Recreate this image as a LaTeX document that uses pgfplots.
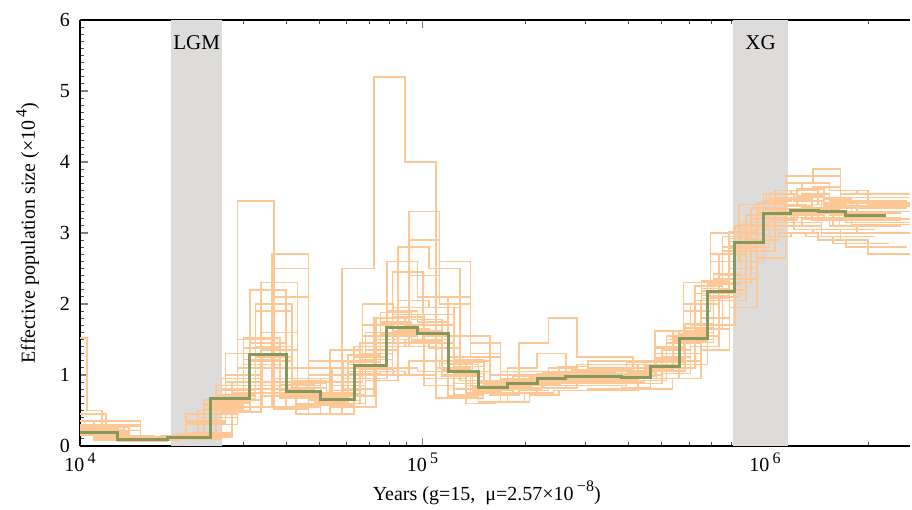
\documentclass[border=0pt]{standalone}
\usepackage{pgfplots}
\pgfplotsset{compat=1.18}
\usepackage{pgfplotstable}
\usepackage{fontspec}
\setmainfont{Liberation Serif}
\definecolor{bootc}{HTML}{FDC896}
\definecolor{psmcc}{HTML}{87985C}
\definecolor{bandc}{HTML}{DDDCDB}

% rows = PSMC intervals, t* = interval start (years) for each bootstrap time grid
\pgfplotstableread{
tA tB tC tD tE tM m c1 c2 c3 c4 c5 c6 c7 c8 c9 c10 c11 c12 c13 c14 c15 c16 c17 c18 c19 c20
9000 9000 9000 9000 9000 9000 0.19 0.25 0.22 0.18 0.30 0.15 0.45 0.20 0.28 0.30 0.20 0.35 0.17 0.22 0.26 0.30 0.24 0.20 0.16 0.35 0.18
12900 11900 13900 15000 11000 12900 0.085 0.12 0.10 0.09 0.12 0.08 0.15 0.10 0.11 0.12 0.10 0.14 0.07 0.09 0.13 0.12 0.11 0.09 0.08 0.13 0.09
17950 16500 19400 20800 15260 17950 0.12 0.15 0.10 0.14 0.18 0.09 0.13 0.12 0.16 0.14 0.13 0.11 0.10 0.12 0.17 0.11 0.13 0.11 0.10 0.14 0.10
24000 22100 25900 27800 20400 24000 0.67 0.55 0.40 0.80 0.90 0.30 0.50 0.45 0.75 0.60 0.65 0.35 0.50 0.55 0.95 0.30 0.45 0.62 0.48 0.85 0.32
31300 28800 33800 36300 26600 31300 1.295 1.45 1.10 1.60 2.10 0.80 3.45 1.50 2.70 1.20 1.35 1.00 0.85 0.95 2.30 0.80 1.30 2.20 1.10 2.50 0.90
40000 36800 43200 46400 34000 40000 0.765 0.85 0.70 0.95 0.90 0.55 0.90 0.80 1.00 0.70 0.75 0.75 0.55 0.70 1.10 0.52 0.85 0.95 0.68 1.20 0.70
50400 46400 54400 58500 42800 50400 0.66 0.75 0.60 0.72 0.80 0.45 0.70 0.65 0.70 0.58 0.60 0.60 0.45 0.55 0.85 0.45 0.70 0.72 0.55 0.95 0.58
63100 58100 68100 73200 53600 63100 1.13 1.25 1.00 1.35 1.40 0.90 1.20 2.50 1.50 1.05 1.10 1.10 0.95 1.00 1.60 0.70 1.35 1.40 0.92 1.80 1.00
78600 72300 84900 91200 66800 78600 1.67 1.90 1.50 2.05 2.90 1.10 1.80 5.20 2.40 1.55 1.65 1.70 1.10 1.20 2.80 1.05 2.00 2.60 1.45 3.30 1.55
96600 88900 104300 112100 82100 96600 1.59 1.75 1.40 1.95 2.00 1.00 1.70 4.00 2.10 1.50 1.55 1.60 1.05 1.10 2.50 1.00 1.85 2.10 1.38 2.60 1.45
118900 109400 128400 137900 101100 118900 1.045 1.15 0.95 1.20 1.30 0.85 1.10 1.20 1.25 1.00 1.05 1.05 0.70 0.75 1.55 0.68 1.20 1.25 0.92 1.45 0.95
145600 134000 157200 168900 123800 145600 0.82 0.90 0.75 0.88 0.95 0.68 0.85 0.80 0.90 0.78 0.85 0.80 0.62 0.62 1.00 0.60 0.88 0.92 0.72 1.05 0.72
177000 162800 191200 205300 150500 177000 0.88 0.95 0.82 0.92 1.00 0.75 0.90 0.85 0.95 0.85 1.45 0.85 0.75 0.72 1.05 0.62 0.92 1.10 0.78 1.05 0.78
216000 198700 233300 250600 183600 216000 0.95 1.02 0.88 1.00 1.05 0.80 0.98 0.90 1.00 0.92 1.80 0.90 0.82 0.78 1.10 0.75 1.00 1.30 0.82 1.12 0.85
262000 241000 283000 303900 222700 262000 0.985 1.05 0.92 1.08 1.10 0.85 1.00 0.95 1.05 0.96 1.25 0.92 0.85 0.80 1.15 0.78 1.02 1.00 0.88 1.20 0.88
381000 350500 411500 442000 323900 381000 0.97 1.02 0.93 1.05 1.10 0.85 0.98 0.95 1.05 0.95 1.00 0.90 0.82 0.80 1.15 0.78 1.00 0.95 0.88 1.20 0.88
463000 426000 500000 537000 393600 463000 1.117 1.20 1.05 1.25 1.30 0.98 1.15 1.10 1.20 1.10 1.15 1.05 0.95 0.95 1.35 0.92 1.18 1.12 1.02 1.50 1.00
561000 516000 606000 651000 476900 561000 1.52 1.62 1.45 1.70 1.80 1.30 1.55 1.50 1.65 1.48 1.55 1.40 1.15 1.35 2.00 1.10 1.62 1.58 1.40 2.05 1.38
679000 625000 733000 788000 577200 679000 2.17 2.30 2.05 2.40 2.50 1.90 2.25 2.15 2.35 2.10 2.20 2.00 1.70 1.95 2.70 1.65 2.30 2.28 2.05 2.60 2.00
816000 751000 881000 947000 693600 816000 2.86 3.00 2.75 3.10 3.20 2.60 2.95 2.80 3.05 2.80 2.90 2.70 2.60 2.65 3.25 2.30 3.00 3.10 2.75 3.35 2.70
989000 910000 1068000 1147000 840700 989000 3.28 3.45 3.20 3.50 3.60 3.05 3.35 3.25 3.70 3.20 3.30 3.15 2.95 3.00 3.60 2.90 3.40 3.55 3.10 3.80 3.10
1189000 1094000 1284000 1379000 1010700 1189000 3.32 3.50 3.30 3.55 3.65 3.15 3.40 3.40 3.80 3.25 3.35 3.25 3.00 3.05 3.70 3.00 3.55 3.60 3.20 3.90 3.20
1430000 1316000 1544000 1659000 1215500 1430000 3.30 3.40 3.20 3.45 3.50 3.05 3.35 3.30 3.55 3.20 3.25 3.15 2.90 2.90 3.60 2.95 3.45 3.50 3.10 3.60 3.10
1720000 1582000 1858000 1995000 1462000 1720000 3.25 3.35 3.10 3.30 3.40 2.95 3.30 3.20 3.40 3.15 3.20 3.05 2.80 2.70 3.55 2.85 3.35 3.45 3.00 3.50 3.00
2600000 2300000 2800000 2900000 2100000 2260000 3.25 3.35 3.10 3.30 3.40 2.95 3.30 3.20 3.40 3.15 3.20 3.05 2.80 2.70 3.55 2.85 3.35 3.45 3.00 3.50 3.00
}\psmc

% ten more bootstrap replicates on two further time grids
\pgfplotstableread{
tF tG c21 c22 c23 c24 c25 c26 c27 c28 c29 c30
9000 9000 0.21 0.19 0.27 0.23 0.18 0.26 0.20 0.17 0.24 0.21
12380 13420 0.10 0.09 0.11 0.10 0.08 0.12 0.09 0.08 0.11 0.10
17230 18670 0.13 0.15 0.12 0.16 0.11 0.14 0.12 0.13 0.14 0.14
23040 24960 0.58 0.78 0.50 0.85 0.52 0.72 0.60 0.66 0.65 0.70
30050 32550 1.30 1.40 1.15 1.90 1.22 2.00 1.38 1.25 1.52 1.20
38400 41600 0.80 0.82 0.72 0.88 0.68 0.92 0.78 0.74 0.86 0.70
48380 52420 0.68 0.70 0.62 0.74 0.57 0.78 0.66 0.64 0.72 0.60
60580 65620 1.18 1.22 1.05 1.30 1.02 1.45 1.15 1.08 1.28 1.05
75460 81740 1.75 1.82 1.60 1.95 1.58 2.45 1.72 1.62 1.88 1.58
92740 100500 1.62 1.70 1.50 1.85 1.48 1.95 1.60 1.55 1.78 1.45
114100 123700 1.08 1.12 1.00 1.18 0.98 1.22 1.06 1.02 1.16 0.98
139800 151400 0.84 0.86 0.78 0.90 0.76 0.92 0.82 0.80 0.88 0.78
169900 184100 0.90 0.92 0.84 0.95 0.80 0.98 0.88 0.86 0.94 0.82
207400 224600 0.96 0.98 0.90 1.02 0.86 1.04 0.94 0.92 1.00 0.88
251500 272500 1.00 1.02 0.94 1.06 0.90 1.08 0.98 0.96 1.04 0.92
365800 396200 0.98 1.00 0.92 1.04 0.90 1.06 0.96 0.95 1.02 0.92
444500 481500 1.14 1.18 1.08 1.22 1.06 1.24 1.12 1.10 1.18 1.06
538600 583400 1.55 1.60 1.48 1.66 1.45 1.72 1.52 1.50 1.62 1.46
651800 706200 2.22 2.28 2.12 2.35 2.08 2.42 2.18 2.15 2.32 2.10
783400 848600 2.92 2.98 2.82 3.05 2.78 3.12 2.88 2.85 3.02 2.80
949400 1029000 3.32 3.40 3.22 3.48 3.15 3.55 3.28 3.25 3.42 3.18
1141000 1237000 3.38 3.45 3.28 3.52 3.22 3.62 3.34 3.30 3.48 3.25
1373000 1487000 3.32 3.38 3.22 3.42 3.18 3.48 3.28 3.22 3.40 3.18
1651000 1789000 3.28 3.30 3.18 3.38 3.10 3.42 3.22 3.15 3.36 3.12
2500000 2700000 3.28 3.30 3.18 3.38 3.10 3.42 3.22 3.15 3.36 3.12
}\psmcb

\begin{document}
\begin{tikzpicture}
\begin{axis}[
    scale only axis, width=415pt, height=213pt,
    xmode=log, xmin=1e4, xmax=2.65e6, ymin=0, ymax=6,
    axis y line*=left,
    axis line style={line width=0.9pt},
    xtick={1e4,1e5,1e6},
    xticklabels={10\,\raisebox{0.9ex}{\footnotesize 4}, 10\,\raisebox{0.9ex}{\footnotesize 5}, 10\,\raisebox{0.9ex}{\footnotesize 6}},
    minor xtick={2e4,3e4,4e4,5e4,6e4,7e4,8e4,9e4,2e5,3e5,4e5,5e5,6e5,7e5,8e5,9e5,2e6},
    ytick={0,...,6}, minor y tick num=9,
    tick align=inside,
    major tick length=4pt, minor tick length=2pt,
    major tick style={gray, line width=0.9pt},
    minor tick style={black!70, line width=0.5pt},
    /pgf/number format/assume math mode=true,
    tick label style={font=\fontsize{10}{12}\selectfont},
    yticklabel style={xshift=-1.5pt},
    label style={font=\fontsize{10}{12}\selectfont},
    xlabel={Years (g=15,\ \ μ=2.57×10\,\raisebox{0.9ex}{\footnotesize −8})},
    xlabel style={at={(axis description cs:0.49,-0.11)}, anchor=center},
    ylabel={Effective population size (×10\,\raisebox{0.9ex}{\footnotesize 4})},
    ylabel style={at={(axis description cs:-0.063,0.5)}, anchor=center},
    boot/.style={const plot, draw=bootc, line width=0.8pt},
  ]
  \addplot[draw=none, fill=bandc] coordinates {(18400,0) (18400,6) (26000,6) (26000,0)} -- cycle;
  \addplot[draw=none, fill=bandc] coordinates {(806000,0) (806000,6) (1167000,6) (1167000,0)} -- cycle;

  \addplot[boot] table[x=tA, y=c1] {\psmc};
  \addplot[boot] table[x=tB, y=c2] {\psmc};
  \addplot[boot] table[x=tC, y=c3] {\psmc};
  \addplot[boot] table[x=tD, y=c4] {\psmc};
  \addplot[boot] table[x=tE, y=c5] {\psmc};
  \addplot[boot] table[x=tB, y=c6] {\psmc};
  \addplot[boot] table[x=tB, y=c7] {\psmc};
  \addplot[boot] table[x=tD, y=c8] {\psmc};
  \addplot[boot] table[x=tA, y=c9] {\psmc};
  \addplot[boot] table[x=tC, y=c10] {\psmc};
  \addplot[boot] table[x=tE, y=c11] {\psmc};
  \addplot[boot] table[x=tA, y=c12] {\psmc};
  \addplot[boot] table[x=tD, y=c13] {\psmc};
  \addplot[boot] table[x=tC, y=c14] {\psmc};
  \addplot[boot] table[x=tB, y=c15] {\psmc};
  \addplot[boot] table[x=tE, y=c16] {\psmc};
  \addplot[boot] table[x=tA, y=c17] {\psmc};
  \addplot[boot] table[x=tC, y=c18] {\psmc};
  \addplot[boot] table[x=tD, y=c19] {\psmc};
  \addplot[boot] table[x=tE, y=c20] {\psmc};
  \addplot[boot] table[x=tF, y=c21] {\psmcb};
  \addplot[boot] table[x=tG, y=c22] {\psmcb};
  \addplot[boot] table[x=tF, y=c23] {\psmcb};
  \addplot[boot] table[x=tG, y=c24] {\psmcb};
  \addplot[boot] table[x=tF, y=c25] {\psmcb};
  \addplot[boot] table[x=tG, y=c26] {\psmcb};
  \addplot[boot] table[x=tF, y=c27] {\psmcb};
  \addplot[boot] table[x=tG, y=c28] {\psmcb};
  \addplot[boot] table[x=tF, y=c29] {\psmcb};
  \addplot[boot] table[x=tG, y=c30] {\psmcb};
  \addplot[boot] coordinates {(9000,1.52) (10500,0.50) (11600,0.30) (12900,0.30)};

  \addplot[const plot, psmcc, line width=1.5pt] table[x=tM, y=m] {\psmc};

  \node[font=\fontsize{10.5}{12}\selectfont] at (axis cs:21900,5.68) {LGM};
  \node[font=\fontsize{10.5}{12}\selectfont] at (axis cs:970000,5.68) {XG};

  \coordinate (ll) at (rel axis cs:0,0);
  \coordinate (ur) at (rel axis cs:1,1);
\end{axis}
\pgfresetboundingbox
\path[use as bounding box] ([shift={(-40pt,-32pt)}]ll) rectangle ([shift={(1pt,10pt)}]ur);
\end{tikzpicture}
\end{document}
